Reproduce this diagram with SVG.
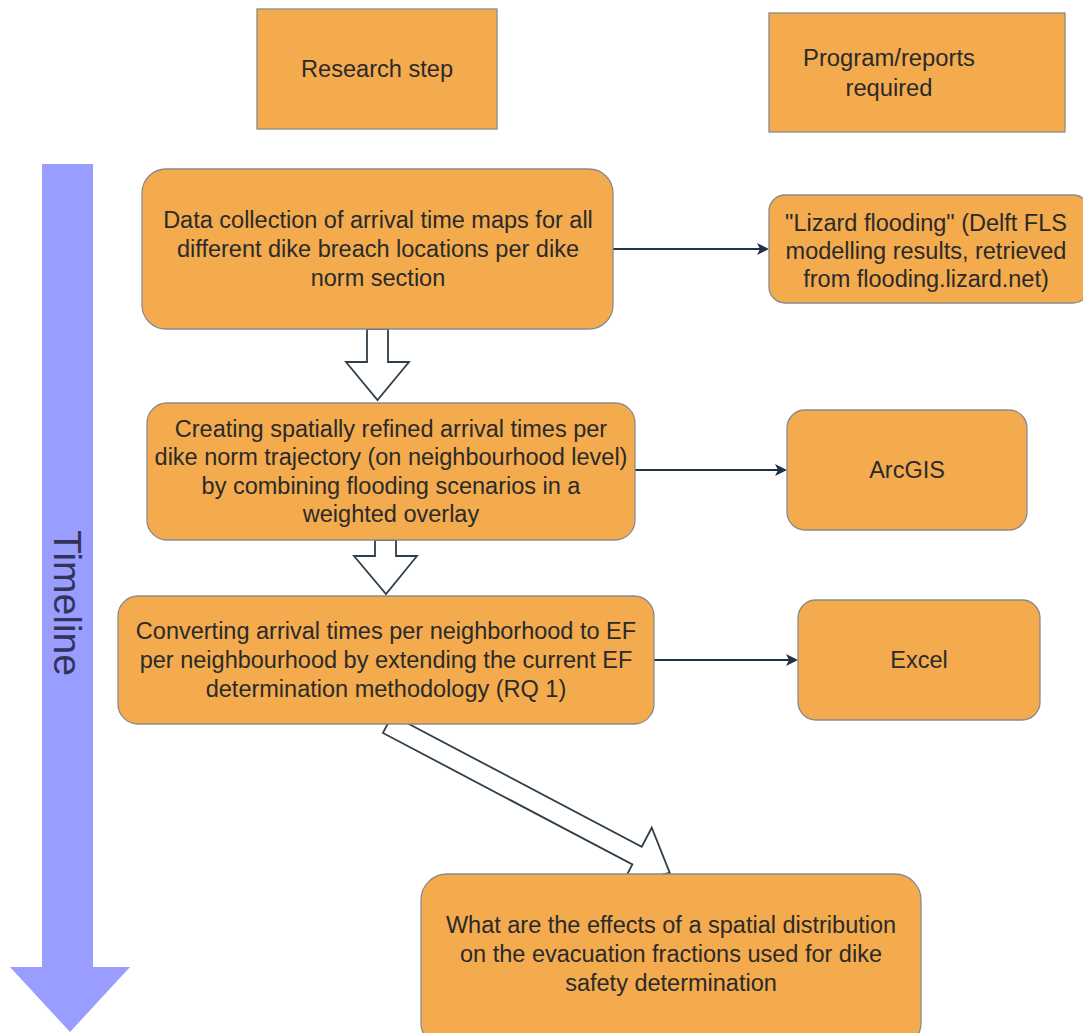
<svg xmlns="http://www.w3.org/2000/svg" width="1083" height="1033" viewBox="0 0 1083 1033">
<style>
.box{fill:#F3AB4E;stroke:#8a8a8a;stroke-width:1.3}
.t{font-family:"Liberation Sans",Arial,sans-serif;font-size:23.5px;fill:#2a2a2a;text-anchor:middle}
.h{font-family:"Liberation Sans",Arial,sans-serif;font-size:23px;fill:#2a2a2a;text-anchor:middle}
.conn{stroke:#1f3344;stroke-width:2;fill:none}
.block{fill:#ffffff;stroke:#2e3e4a;stroke-width:1.8;stroke-linejoin:miter}
</style>
<defs>
<marker id="ah" markerWidth="12" markerHeight="12" refX="10" refY="6" orient="auto" markerUnits="userSpaceOnUse">
<path d="M0,0 L12,6 L0,12 L3,6 Z" fill="#1f3344"/>
</marker>
</defs>
<rect width="1083" height="1033" fill="#ffffff"/>

<g id="timeline">
<polygon points="42,164 93,164 93,967 130,967 70,1032 10,967 42,967" fill="#999DFF"/>
<text x="0" y="0" transform="translate(54,603) rotate(90)" font-family="Liberation Sans,Arial,sans-serif" font-size="39" fill="#33335a" text-anchor="middle">Timeline</text>
</g>

<g id="header-research">
<rect class="box" x="257" y="9" width="240" height="120"/>
<text class="h" x="377" y="77" textLength="152" lengthAdjust="spacingAndGlyphs">Research step</text>
</g>
<g id="header-program">
<rect class="box" x="769" y="13" width="296" height="119"/>
<text class="h" x="889" y="66" textLength="172" lengthAdjust="spacingAndGlyphs">Program/reports</text>
<text class="h" x="889" y="96" textLength="87" lengthAdjust="spacingAndGlyphs">required</text>
</g>

<g id="connectors">
<line class="conn" x1="613" y1="249" x2="767" y2="249" marker-end="url(#ah)"/>
<line class="conn" x1="635" y1="470" x2="785" y2="470" marker-end="url(#ah)"/>
<line class="conn" x1="654" y1="660" x2="796" y2="660" marker-end="url(#ah)"/>
<polygon class="block" points="367,329 388,329 388,362 409,362 377.5,400 346,362 367,362"/>
<polygon class="block" points="375,540 396,540 396,556 417,556 386,594 354,556 375,556"/>
<polygon class="block" transform="translate(387.6,724.1) rotate(27.8)" points="0,-10 282,-10 282,-31.5 319,0 282,31.5 282,10 0,10"/>
</g>

<g id="n1">
<rect class="box" x="142" y="169" width="471" height="160" rx="24"/>
<text class="t" x="378" y="228">Data collection of arrival time maps for all</text>
<text class="t" x="378" y="257">different dike breach locations per dike</text>
<text class="t" x="378" y="286">norm section</text>
</g>
<g id="n-lizard">
<rect class="box" x="769" y="195" width="320" height="108" rx="16"/>
<text class="t" x="926" y="231">"Lizard flooding" (Delft FLS</text>
<text class="t" x="926" y="259">modelling results, retrieved</text>
<text class="t" x="926" y="287">from flooding.lizard.net)</text>
</g>
<g id="n2">
<rect class="box" x="147" y="403" width="488" height="137" rx="20"/>
<text class="t" x="391" y="437">Creating spatially refined arrival times per</text>
<text class="t" x="391" y="465">dike norm trajectory (on neighbourhood level)</text>
<text class="t" x="391" y="494">by combining flooding scenarios in a</text>
<text class="t" x="391" y="522">weighted overlay</text>
</g>
<g id="n-arcgis">
<rect class="box" x="787" y="410" width="240" height="120" rx="18"/>
<text class="t" x="907" y="478">ArcGIS</text>
</g>
<g id="n3">
<rect class="box" x="118" y="596" width="536" height="128" rx="20"/>
<text class="t" x="386" y="639">Converting arrival times per neighborhood to EF</text>
<text class="t" x="386" y="668">per neighbourhood by extending the current EF</text>
<text class="t" x="386" y="697">determination methodology (RQ 1)</text>
</g>
<g id="n-excel">
<rect class="box" x="798" y="600" width="242" height="120" rx="18"/>
<text class="t" x="919" y="668">Excel</text>
</g>
<g id="n-final">
<rect class="box" x="421" y="874" width="500" height="175" rx="26"/>
<text class="t" x="671" y="933">What are the effects of a spatial distribution</text>
<text class="t" x="671" y="962">on the evacuation fractions used for dike</text>
<text class="t" x="671" y="991">safety determination</text>
</g>
</svg>
